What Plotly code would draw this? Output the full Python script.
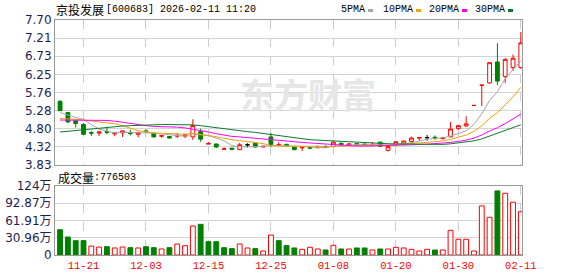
import plotly.graph_objects as go

# ---------------- data ----------------
dates = ["11-18", "11-19", "11-20", "11-21", "11-24", "11-25", "11-26", "11-27", "11-28",
         "12-01", "12-02", "12-03", "12-04", "12-05", "12-08", "12-09", "12-10", "12-11", "12-12",
         "12-15", "12-16", "12-17", "12-18", "12-19", "12-22", "12-23", "12-24", "12-25", "12-26",
         "12-29", "12-30", "12-31", "01-05", "01-06", "01-07", "01-08", "01-09",
         "01-12", "01-13", "01-14", "01-15", "01-16", "01-19", "01-20", "01-21", "01-22", "01-23",
         "01-26", "01-27", "01-28", "01-29", "01-30", "02-02", "02-03", "02-04", "02-05", "02-06",
         "02-09", "02-10", "02-11"]

opens = [5.53, 5.23, 5.01, 4.91, 4.69, 4.68, 4.72, 4.66, 4.69, 4.70,
         4.65, 4.74, 4.68, 4.60, 4.59, 4.60, 4.60, 4.58, 4.72, 4.39,
         4.39, 4.25, 4.28, 4.24, 4.37, 4.41, 4.31, 4.58, 4.35, 4.38,
         4.31, 4.29, 4.30, 4.29, 4.33, 4.32, 4.41, 4.36, 4.40, 4.39,
         4.37, 4.44, 4.22, 4.37, 4.39, 4.46, 4.55, 4.56, 4.57, 4.53,
         4.58, 4.80, 4.87, 5.42, 5.96, 6.02, 6.58, 6.19, 6.43, 6.43]
highs = [5.56, 5.24, 5.02, 4.95, 4.74, 4.72, 4.85, 4.69, 4.74, 4.77,
         4.71, 4.78, 4.69, 4.63, 4.60, 4.68, 4.67, 5.05, 4.80, 4.44,
         4.40, 4.30, 4.29, 4.42, 4.41, 4.42, 4.33, 4.68, 4.44, 4.40,
         4.32, 4.30, 4.31, 4.34, 4.35, 4.47, 4.43, 4.41, 4.41, 4.40,
         4.44, 4.45, 4.32, 4.47, 4.48, 4.59, 4.56, 4.63, 4.62, 4.58,
         4.98, 4.90, 5.13, 5.42, 5.96, 6.56, 7.08, 6.68, 6.78, 7.38]
lows = [5.27, 4.95, 4.83, 4.64, 4.60, 4.60, 4.65, 4.60, 4.58, 4.62,
        4.57, 4.70, 4.57, 4.56, 4.54, 4.55, 4.55, 4.50, 4.45, 4.39,
        4.28, 4.25, 4.22, 4.24, 4.30, 4.30, 4.31, 4.31, 4.34, 4.32,
        4.22, 4.20, 4.26, 4.28, 4.29, 4.31, 4.36, 4.34, 4.35, 4.34,
        4.33, 4.32, 4.19, 4.36, 4.38, 4.43, 4.48, 4.48, 4.50, 4.52,
        4.57, 4.77, 4.86, 5.42, 5.40, 6.00, 5.96, 6.02, 6.34, 6.40]
closes = [5.28, 4.98, 4.94, 4.65, 4.68, 4.71, 4.70, 4.68, 4.74, 4.67,
          4.70, 4.72, 4.58, 4.61, 4.55, 4.62, 4.64, 4.88, 4.52, 4.40,
          4.31, 4.26, 4.25, 4.37, 4.37, 4.31, 4.33, 4.38, 4.37, 4.34,
          4.24, 4.30, 4.28, 4.33, 4.30, 4.44, 4.37, 4.39, 4.37, 4.36,
          4.38, 4.33, 4.32, 4.45, 4.47, 4.55, 4.56, 4.56, 4.55, 4.55,
          4.79, 4.88, 4.93, 5.42, 5.96, 6.56, 6.07, 6.65, 6.68, 7.09]

# volume in 万 (10k lots), and its colour direction (1 = up / red, 0 = down / green)
volumes = [45.4, 32.3, 25.7, 25.7, 16.1, 14.3, 14.9, 12.6, 14.3, 13.1,
           12.6, 14.9, 13.1, 10.8, 13.1, 19.7, 16.7, 52.0, 55.0, 23.9,
           23.9, 13.1, 11.4, 19.7, 12.6, 11.4, 7.2, 35.9, 25.7, 16.8,
           12.6, 10.2, 13.8, 10.8, 9.0, 17.4, 10.8, 10.8, 12.6, 12.6,
           9.0, 10.8, 10.8, 13.8, 12.6, 10.2, 7.2, 10.2, 9.0, 9.0,
           44.3, 28.2, 28.2, 7.2, 88.1, 67.7, 115.0, 110.8, 94.7, 77.65]
vol_up = [0, 0, 0, 0, 1, 1, 0, 1, 1, 0,
          1, 0, 0, 1, 0, 1, 1, 1, 0, 0,
          0, 0, 0, 1, 1, 0, 1, 1, 0, 0,
          0, 1, 1, 1, 0, 1, 0, 1, 0, 0,
          1, 0, 1, 1, 1, 1, 1, 1, 0, 1,
          1, 1, 1, 1, 1, 1, 0, 1, 1, 1]

# moving-average values before enough in-window history exists
ma5_lead = [5.23, 5.16, 5.10, 5.05]
ma10_lead = [5.07, 5.07, 5.05, 5.03, 5.00, 4.98, 4.96, 4.93, 4.88]
ma20_lead = [5.03, 5.03, 5.03, 5.03, 5.03, 5.03, 5.02, 5.00, 4.97, 4.94,
             4.90, 4.88, 4.86, 4.86, 4.85, 4.84, 4.82, 4.79, 4.75]
ma30_lead = [4.71, 4.73, 4.75, 4.79, 4.81, 4.83, 4.84, 4.86, 4.87, 4.88,
             4.89, 4.90, 4.91, 4.91, 4.91, 4.91, 4.91, 4.90, 4.88, 4.85,
             4.83, 4.81, 4.78, 4.75, 4.72, 4.70, 4.67, 4.65, 4.62]

price_ticks = ["3.83", "4.32", "4.80", "5.28", "5.76", "6.25", "6.73", "7.21", "7.70"]
price_min, price_max = 3.83, 7.70
vol_ticks = ["0", "30.96万", "61.91万", "92.87万", "124万"]
vol_max = 123.83
date_tick_idx = [3, 11, 19, 27, 35, 43, 51, 59]

stock_name = "京投发展"
stock_info = "[600683] 2026-02-11 11:20"
vol_label_cn = "成交量"
vol_label_num = ":776503"
ma_names = ["5PMA", "10PMA", "20PMA", "30PMA"]
ma_colors = ["#a6a6a6", "#f0a30a", "#ff00ff", "#0b7a2e"]
watermark = "东方财富"

RED = "#ff0000"
GREEN = "#008000"


def moving_avg(vals, n, lead):
    out = list(lead)
    for i in range(len(lead), len(vals)):
        out.append(sum(vals[i - n + 1:i + 1]) / n)
    return out


mas = [moving_avg(closes, 5, ma5_lead), moving_avg(closes, 10, ma10_lead),
       moving_avg(closes, 20, ma20_lead), moving_avg(closes, 30, ma30_lead)]

N = len(dates)
xs = list(range(N))

# flat candles equal to previous close are drawn black
black = [i for i in xs if opens[i] == closes[i] and i > 0 and closes[i] == closes[i - 1]]
main_idx = [i for i in xs if i not in black]

# ---------------- layout geometry (pixels) ----------------
W, H = 578, 276
L, R, T, B = 55, 522, 20, 255
pw, ph = R - L, B - T


def px(x):
    return (x - L) / pw


def py(y):
    return (B - y) / ph


fig = go.Figure()

fig.add_trace(go.Candlestick(
    x=[xs[i] for i in main_idx],
    open=[opens[i] for i in main_idx], high=[highs[i] for i in main_idx],
    low=[lows[i] for i in main_idx], close=[closes[i] for i in main_idx],
    increasing=dict(line=dict(color=RED, width=1), fillcolor="white"),
    decreasing=dict(line=dict(color=GREEN, width=1), fillcolor=GREEN),
    whiskerwidth=0, xaxis="x", yaxis="y", showlegend=False, hoverinfo="skip"))

if black:
    fig.add_trace(go.Candlestick(
        x=[xs[i] for i in black],
        open=[opens[i] for i in black], high=[highs[i] for i in black],
        low=[lows[i] for i in black], close=[closes[i] for i in black],
        increasing=dict(line=dict(color="black", width=1), fillcolor="black"),
        decreasing=dict(line=dict(color="black", width=1), fillcolor="black"),
        whiskerwidth=0, xaxis="x", yaxis="y", showlegend=False, hoverinfo="skip"))

for m, c in zip(mas, ma_colors):
    fig.add_trace(go.Scatter(x=xs, y=m, mode="lines", line=dict(color=c, width=1),
                             xaxis="x", yaxis="y", showlegend=False, hoverinfo="skip"))

fig.add_trace(go.Bar(
    x=xs, y=volumes, width=0.62,
    marker=dict(color=["white" if u else GREEN for u in vol_up],
                line=dict(color=[RED if u else GREEN for u in vol_up], width=1)),
    xaxis="x2", yaxis="y2", showlegend=False, hoverinfo="skip"))

xr = [-0.65, N - 1 + 0.15]
common_x = dict(range=xr, showgrid=True, griddash="dash", gridcolor="#cccccc", gridwidth=1,
                tickvals=date_tick_idx, showline=True, mirror=True, linecolor="#999999",
                zeroline=False, fixedrange=True, automargin=False)

yc_top = 165
yv_top = 186
fig.update_layout(
    width=W, height=H, margin=dict(l=L, r=W - R, t=T, b=H - B, autoexpand=False),
    paper_bgcolor="white", plot_bgcolor="white",
    xaxis=dict(**common_x, domain=[0, 1], anchor="y", showticklabels=False,
               rangeslider=dict(visible=False)),
    xaxis2=dict(**common_x, domain=[0, 1], anchor="y2",
                ticktext=[dates[i] for i in date_tick_idx], ticks="", ticklabelstandoff=0,
                tickfont=dict(family="Liberation Mono", size=10.5, color=RED)),
    yaxis=dict(domain=[py(yc_top), 1], range=[price_min, price_max],
               tickvals=[price_min + k * (price_max - price_min) / 8 for k in range(9)],
               ticktext=price_ticks, showgrid=True, gridcolor="#d4d4d4",
               showline=True, mirror=True, linecolor="#999999", zeroline=False,
               automargin=False,
               tickfont=dict(family="DejaVu Sans", size=12, color="#1e1e50"), fixedrange=True),
    yaxis2=dict(domain=[0, py(yv_top)], range=[0, vol_max],
                tickvals=[k * vol_max / 4 for k in range(5)], ticktext=vol_ticks,
                showgrid=True, gridcolor="#d4d4d4", showline=True, mirror=True,
                linecolor="#999999", zeroline=False, automargin=False,
                tickfont=dict(family="DejaVu Sans, Noto Sans CJK SC", size=12, color="#1e1e50"),
                fixedrange=True),
    bargap=0.3,
)


def note(x, y, text, family, size, color="black", anchor="left"):
    return dict(x=px(x), y=py(y), xref="paper", yref="paper", text=text, xanchor=anchor,
                yanchor="middle", showarrow=False,
                font=dict(family=family, size=size, color=color))


ann = []
# watermark
ann.append(note(308, 93, "<b>" + watermark + "</b>", "Noto Sans CJK SC", 34, "#e6e6e6", "center"))
# title
ann.append(note(54, 10, stock_name, "Noto Sans CJK SC", 12))
ann.append(note(104, 10, stock_info, "Liberation Mono", 10))
# volume label
ann.append(note(56, 177, vol_label_cn, "Noto Sans CJK SC", 12))
ann.append(note(92, 177, vol_label_num, "Liberation Mono", 10))

shapes = []
leg_x = [339, 381, 427, 473]
for name, c, lx in zip(ma_names, ma_colors, leg_x):
    ann.append(note(lx, 10, name, "Liberation Mono", 10))
    sx = lx + 6.0 * len(name) + 5
    shapes.append(dict(type="rect", xref="paper", yref="paper", x0=px(sx), x1=px(sx + 5),
                       y0=py(12), y1=py(9), fillcolor=c, line=dict(width=0)))

fig.update_layout(annotations=ann, shapes=shapes)

fig.write_html("out.html")
